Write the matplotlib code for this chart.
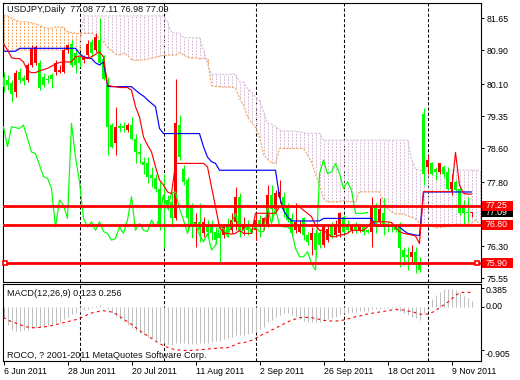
import numpy as np
import pandas as pd
import matplotlib
matplotlib.use("Agg")
import matplotlib.pyplot as plt
from matplotlib.patches import Rectangle
from matplotlib.transforms import blended_transform_factory

plt.rcParams['font.family'] = ['Liberation Sans', 'DejaVu Sans']

# ---------------- data ----------------
symbol_title = "USDJPY,Daily  77.08 77.11 76.98 77.09"
macd_title = "MACD(12,26,9) 0.123 0.256"
copyright_text = "ROCO, ? 2001-2011 MetaQuotes Software Corp."

dates = pd.bdate_range("2011-06-06", periods=118)

opens = [80.27, 80.19, 80.12, 79.92, 80.39, 80.25, 80.19, 80.55, 80.59, 80.59,
         80.27, 80.23, 80.31, 80.39, 80.39, 80.39, 80.90, 81.05, 80.82, 80.74,
         80.66, 80.78, 81.09, 80.90, 81.13, 80.70, 80.08, 79.14, 78.71, 79.12,
         79.11, 79.02, 79.14, 78.82, 78.51, 78.28, 78.24, 77.97, 77.89, 77.65,
         77.46, 77.38, 77.34, 76.95, 79.14, 78.12, 77.85, 77.26, 76.75, 76.87,
         76.60, 76.79, 76.79, 76.64, 76.60, 76.56, 76.83, 76.67, 76.87, 77.46,
         76.67, 76.83, 76.71, 76.67, 76.91, 76.75, 76.83, 77.50, 77.18, 77.46,
         77.46, 77.22, 76.95, 76.67, 76.64, 76.95, 76.56, 76.44, 76.60, 76.60,
         76.32, 76.44, 76.79, 76.56, 76.60, 76.99, 76.83, 76.67, 76.79, 76.67,
         76.79, 76.67, 76.64, 77.26, 76.87, 77.07, 76.83, 76.79, 76.75, 76.75,
         76.21, 76.09, 76.05, 76.17, 75.93, 79.41, 78.16, 78.24, 78.12, 78.04,
         78.16, 78.04, 77.65, 77.81, 77.65, 77.26, 77.11, 77.08]
highs = [80.39, 80.31, 80.19, 80.43, 80.47, 80.31, 80.59, 81.01, 81.01, 80.66,
         80.35, 80.31, 80.35, 80.66, 80.55, 80.98, 81.05, 81.13, 80.90, 80.82,
         80.78, 81.13, 81.17, 81.29, 81.64, 80.78, 80.27, 79.18, 79.57, 79.18,
         79.22, 79.18, 79.33, 78.94, 78.71, 78.39, 78.39, 78.16, 78.00, 77.81,
         78.00, 77.50, 77.54, 80.23, 79.37, 78.20, 77.93, 77.30, 77.07, 77.30,
         76.99, 76.91, 76.91, 76.75, 76.67, 76.83, 76.95, 77.07, 77.69, 77.54,
         76.99, 76.91, 76.79, 77.07, 77.03, 76.99, 77.73, 77.73, 77.61, 77.85,
         77.57, 77.30, 77.07, 77.30, 76.91, 76.99, 76.64, 76.75, 76.67, 76.67,
         76.83, 76.79, 76.87, 76.91, 77.10, 77.03, 76.91, 76.83, 76.87, 76.83,
         76.83, 76.71, 77.46, 77.30, 77.42, 77.42, 76.87, 76.83, 76.79, 76.87,
         76.28, 76.28, 76.32, 76.28, 76.05, 79.53, 78.43, 78.28, 78.16, 78.26,
         78.20, 78.16, 78.00, 77.85, 77.69, 77.38, 77.46, 77.11]
lows = [79.92, 79.96, 79.69, 79.80, 80.12, 80.08, 80.15, 80.51, 80.55, 79.96,
        80.04, 80.12, 80.00, 80.31, 80.35, 80.35, 80.82, 80.51, 80.35, 80.51,
        80.59, 80.74, 80.74, 80.86, 80.55, 80.19, 78.43, 78.59, 78.43, 78.98,
        78.98, 78.98, 78.79, 78.24, 78.24, 78.00, 77.77, 77.69, 77.57, 76.67,
        76.25, 77.15, 76.75, 76.91, 78.32, 77.73, 76.67, 76.48, 76.28, 76.40,
        76.52, 76.52, 76.44, 76.36, 75.93, 76.48, 76.52, 76.60, 76.67, 76.52,
        76.56, 76.56, 76.60, 76.44, 76.52, 76.67, 76.75, 76.91, 77.07, 77.30,
        76.99, 76.87, 76.56, 76.60, 76.60, 76.44, 76.32, 76.09, 76.05, 76.25,
        76.28, 76.40, 76.48, 76.52, 76.52, 76.60, 76.60, 76.60, 76.60, 76.64,
        76.56, 76.60, 76.28, 76.60, 76.79, 76.56, 76.64, 76.64, 76.64, 75.81,
        75.85, 75.74, 75.89, 75.66, 75.70, 77.73, 78.00, 77.97, 77.85, 78.00,
        77.93, 77.61, 77.50, 77.57, 77.03, 76.79, 76.87, 76.98]
closes = [80.04, 80.08, 79.88, 80.37, 80.19, 80.17, 80.55, 80.94, 80.98, 80.00,
          80.08, 80.19, 80.23, 80.59, 80.43, 80.90, 81.01, 80.55, 80.55, 80.59,
          80.74, 81.05, 80.82, 81.21, 80.59, 80.23, 79.10, 78.63, 79.10, 79.08,
          79.06, 79.14, 78.82, 78.51, 78.47, 78.20, 77.93, 77.89, 77.65, 76.75,
          77.38, 77.26, 76.95, 79.18, 78.39, 77.81, 76.95, 76.75, 76.87, 76.67,
          76.87, 76.64, 76.60, 76.44, 76.48, 76.75, 76.60, 76.91, 77.46, 76.67,
          76.83, 76.67, 76.64, 76.91, 76.75, 76.95, 77.50, 77.18, 77.54, 77.57,
          77.18, 76.91, 76.60, 76.87, 76.83, 76.56, 76.40, 76.60, 76.21, 76.32,
          76.75, 76.71, 76.52, 76.83, 77.07, 76.64, 76.67, 76.79, 76.67, 76.75,
          76.64, 76.64, 77.22, 76.83, 77.18, 76.79, 76.75, 76.75, 76.67, 76.25,
          76.05, 76.05, 76.17, 75.89, 75.74, 78.00, 78.32, 78.00, 78.04, 78.24,
          78.00, 77.65, 77.81, 77.61, 77.07, 77.07, 77.07, 77.09]

tenkan = [81.05, 80.90, 80.72, 80.70, 80.70, 80.62, 80.41, 80.37, 80.37, 80.41,
          80.44, 80.47, 80.52, 80.57, 80.61, 80.62, 80.62, 80.62, 80.74, 80.76,
          80.72, 80.70, 80.74, 80.80, 80.86, 80.74, 80.08, 80.05, 80.04, 80.02,
          80.02, 80.02, 79.96, 79.57, 79.33, 78.86, 78.67, 78.51, 78.16, 77.85,
          77.73, 77.57, 77.53, 78.24, 78.24, 78.24, 78.24, 78.24, 78.24, 78.24,
          78.24, 78.16, 77.69, 77.22, 76.75, 76.60, 76.60, 76.58, 76.60, 76.67,
          76.60, 76.60, 76.60, 77.07, 77.07, 77.07, 77.07, 77.07, 77.07, 77.22,
          77.22, 77.22, 77.22, 77.22, 77.22, 77.14, 77.07, 76.99, 76.79, 76.67,
          76.67, 76.60, 76.52, 76.52, 76.56, 76.57, 76.60, 76.67, 76.67, 76.67,
          76.67, 76.75, 76.87, 76.87, 76.87, 76.87, 76.87, 76.85, 76.75, 76.64,
          76.60, 76.58, 76.56, 76.54, 76.36, 77.58, 77.58, 77.58, 77.58, 77.58,
          77.58, 77.58, 77.58, 78.50, 77.73, 77.54, 77.52, 77.52]
kijun = [80.87, 80.87, 80.87, 80.87, 80.94, 80.94, 80.94, 80.94, 80.94, 80.94,
         80.94, 80.94, 80.94, 80.94, 80.94, 80.94, 80.94, 80.94, 80.94, 80.82,
         80.74, 80.72, 80.70, 80.60, 80.55, 80.62, 80.05, 80.04, 80.04, 80.04,
         80.04, 80.04, 80.04, 79.96, 79.88, 79.82, 79.73, 79.65, 79.57, 79.06,
         78.94, 78.94, 78.94, 78.94, 78.94, 78.94, 78.94, 78.94, 78.94, 78.94,
         78.63, 78.39, 78.28, 78.24, 78.08, 78.08, 78.08, 78.08, 78.08, 78.08,
         78.08, 78.08, 78.08, 78.08, 78.08, 78.08, 78.08, 78.08, 78.08, 77.46,
         77.14, 76.99, 76.89, 76.89, 76.89, 76.89, 76.89, 76.89, 76.89, 76.89,
         76.95, 76.95, 76.95, 76.95, 76.95, 76.95, 76.95, 76.95, 76.95, 76.95,
         76.95, 76.95, 76.95, 76.77, 76.77, 76.77, 76.77, 76.77, 76.77, 76.75,
         76.67, 76.60, 76.58, 76.56, 76.55, 77.57, 77.57, 77.57, 77.57, 77.57,
         77.57, 77.57, 77.57, 77.57, 77.57, 77.57, 77.57, 77.57]

# leading parts of the cloud spans (earlier history not on screen)
span_a_head = [81.72, 81.70, 81.64, 81.60, 81.56, 81.56, 81.56, 81.54, 81.51, 81.48,
               81.43, 81.41, 81.41, 81.44, 81.44, 81.43, 81.33, 81.31, 81.29, 81.29,
               81.29, 81.29, 81.29, 81.25, 81.17, 81.09]
span_b_head = [80.90, 80.90, 80.90, 80.90, 80.90, 80.90, 80.90, 80.90, 80.90, 80.90,
               80.90, 80.90, 80.90, 80.90, 80.90, 80.90, 80.90, 80.90, 80.90, 80.90,
               81.70, 81.70, 81.70, 81.70, 81.70, 81.70, 81.70, 81.70, 81.70, 81.70,
               81.70, 81.70, 81.70, 81.70, 81.70, 81.70, 81.70, 81.70, 81.70, 81.70,
               81.70, 81.56, 81.31, 81.30, 81.29, 81.19, 81.19, 81.19, 81.19, 81.19,
               80.90, 80.58, 80.33, 80.33, 80.33, 80.33, 80.33, 80.33, 80.33, 80.15,
               80.15, 80.00, 79.92, 79.80, 79.72, 79.45, 79.18, 79.16, 79.11, 79.02,
               79.00, 79.00, 79.00, 79.00, 78.98, 78.96, 78.94]

macd_main = [-0.21, -0.385, -0.49, -0.50, -0.50, -0.49, -0.48, -0.455, -0.44, -0.43,
             -0.42, -0.41, -0.385, -0.35, -0.315, -0.265, -0.21, -0.16, -0.13, -0.105,
             -0.07, -0.04, -0.02, 0.015, 0.03, 0.0, -0.055, -0.125, -0.195, -0.265,
             -0.315, -0.385, -0.455, -0.50, -0.56, -0.595, -0.63, -0.665, -0.70, -0.735,
             -0.77, -0.79, -0.805, -0.77, -0.755, -0.77, -0.785, -0.785, -0.785, -0.77,
             -0.77, -0.755, -0.74, -0.73, -0.715, -0.685, -0.66, -0.63, -0.60, -0.595,
             -0.595, -0.58, -0.56, -0.525, -0.475, -0.435, -0.315, -0.28, -0.225, -0.175,
             -0.14, -0.14, -0.175, -0.225, -0.265, -0.295, -0.315, -0.315, -0.33, -0.315,
             -0.28, -0.26, -0.245, -0.21, -0.16, -0.14, -0.125, -0.11, -0.105, -0.09,
             -0.085, -0.085, -0.055, -0.05, -0.04, -0.035, -0.02, -0.03, -0.04, -0.085,
             -0.14, -0.175, -0.21, -0.245, -0.28, -0.14, 0.035, 0.155, 0.245, 0.315,
             0.365, 0.37, 0.37, 0.35, 0.28, 0.225, 0.175, 0.123]
macd_signal = [-0.224, -0.273, -0.315, -0.343, -0.371, -0.406, -0.427, -0.441, -0.441, -0.434,
               -0.427, -0.413, -0.399, -0.378, -0.357, -0.336, -0.315, -0.294, -0.273, -0.245,
               -0.21, -0.168, -0.133, -0.112, -0.098, -0.084, -0.098, -0.112, -0.147, -0.203,
               -0.259, -0.315, -0.371, -0.434, -0.497, -0.56, -0.609, -0.665, -0.721, -0.77,
               -0.819, -0.854, -0.882, -0.903, -0.91, -0.917, -0.924, -0.917, -0.91, -0.903,
               -0.896, -0.889, -0.882, -0.875, -0.868, -0.861, -0.861, -0.833, -0.798, -0.763,
               -0.756, -0.735, -0.707, -0.665, -0.616, -0.574, -0.539, -0.49, -0.455, -0.406,
               -0.364, -0.322, -0.28, -0.259, -0.231, -0.224, -0.224, -0.231, -0.245, -0.266,
               -0.287, -0.294, -0.301, -0.301, -0.294, -0.28, -0.259, -0.238, -0.21, -0.196,
               -0.175, -0.154, -0.14, -0.126, -0.112, -0.098, -0.084, -0.07, -0.063, -0.063,
               -0.07, -0.091, -0.105, -0.126, -0.154, -0.161, -0.154, -0.126, -0.084, -0.021,
               0.035, 0.091, 0.161, 0.231, 0.294, 0.301, 0.301, 0.301]

levels = [77.25, 76.80, 75.90]
current_price = 77.09
price_ticks = [81.65, 80.90, 80.10, 79.35, 78.60, 77.80, 76.30, 75.55]
macd_ticks = [0.385, 0.00, -0.905]
date_tick_idx = [0, 16, 32, 48, 64, 80, 96, 112]

# ---------------- derived series ----------------
o = np.array(opens); h = np.array(highs); l = np.array(lows); c = np.array(closes)
tk = np.array(tenkan); kj = np.array(kijun)
n = len(c)
x = np.arange(n)
shift = 26
n_cloud = 120
span_a = np.empty(n_cloud)
span_b = np.empty(n_cloud)
span_a[:shift] = span_a_head
for j in range(shift, n_cloud):
    span_a[j] = (tk[j - shift] + kj[j - shift]) / 2
span_b[:len(span_b_head)] = span_b_head
for j in range(len(span_b_head), n_cloud):
    s = slice(j - shift - 51, j - shift + 1)
    span_b[j] = (h[s].max() + l[s].min()) / 2
xc = np.arange(n_cloud)

# ---------------- figure ----------------
W, H = 520, 380
fig = plt.figure(figsize=(W / 100, H / 100), dpi=100)
fig.patch.set_facecolor('white')

def rect(left, top, right, bottom):
    return [left / W, 1 - bottom / H, (right - left) / W, (bottom - top) / H]

ax = fig.add_axes(rect(2.5, 2.7, 481, 281.5))
ax2 = fig.add_axes(rect(2.5, 283.5, 481, 361), sharex=ax)

FS = 6.3
ax.set_xlim(-0.25, 119.375)
ax.set_ylim(75.47, 82.01)
ax2.set_ylim(-1.14, 0.487)

sep_idx = [i for i in range(1, n) if dates[i].month != dates[i - 1].month]
for a in (ax, ax2):
    for s in sep_idx:
        a.axvline(s, color='black', lw=0.75, ls=(0, (3, 2)), zorder=1)
    for sp in a.spines.values():
        sp.set_color('black')
        sp.set_linewidth(0.8)

# Ichimoku cloud
SANDY, THISTLE = '#F4A460', '#D8BFD8'
cols = [SANDY if span_a[j] >= span_b[j] else THISTLE for j in range(n_cloud)]
ax.vlines(xc, np.minimum(span_a, span_b), np.maximum(span_a, span_b),
          colors=cols, linestyles=[(0, (2, 1.2))], lw=0.72, zorder=2)
ax.plot(xc, span_a, color=SANDY, lw=0.8, ls=(0, (2, 1.2)), zorder=2.2)
ax.plot(xc, span_b, color=THISTLE, lw=0.8, ls=(0, (2, 1.2)), zorder=2.2)

# candles
bull = c > o
colors = np.where(bull, '#FF0000', '#00FF00')
ax.vlines(x, l, h, colors=colors, lw=0.75, zorder=3)
body_lo = np.minimum(o, c)
body_h = np.maximum(np.abs(c - o), 0.024)
ax.bar(x, body_h, bottom=body_lo, width=0.75, color=colors, linewidth=0, zorder=3.1)

# indicator lines
ax.plot(x[:n - shift], c[shift:], color='#00FF00', lw=0.85, zorder=4)
ax.plot(x, kj, color='#0000FF', lw=0.85, zorder=4.1)
ax.plot(x, tk, color='#FF0000', lw=0.85, zorder=4.2)

# horizontal levels
for lv in levels:
    ax.axhline(lv, color='#FF0000', lw=2.0, zorder=5)
ax.plot([0.375, 118.3], [levels[2], levels[2]], 's', ms=3.4, mfc='white',
        mec='#FF0000', mew=1.2, zorder=6, clip_on=False)

# price axis
ax.yaxis.tick_right()
ax.set_yticks(price_ticks)
ax.set_yticklabels([f"{v:.2f}" for v in price_ticks])
ax.tick_params(axis='y', direction='out', length=2.5, width=0.7, pad=1.5,
               labelsize=FS, colors='black')
ax.tick_params(axis='x', bottom=False, labelbottom=False)

trans = blended_transform_factory(ax.transAxes, ax.transData)
box_w = 31 / 478.5
box_h = 10 / 42.62

def price_box(val, fc, z):
    ax.add_patch(Rectangle((1.0 + 0.6 / 478.5, val - box_h / 2), box_w, box_h,
                           transform=trans, clip_on=False, fc=fc, ec='none', zorder=z))
    ax.text(1.0 + 5 / 478.5, val, f"{val:.2f}", transform=trans, color='white',
            va='center', ha='left', fontsize=FS, clip_on=False, zorder=z + 0.1)

price_box(current_price, 'black', 7)
for k, lv in enumerate(levels):
    price_box(lv, '#FF0000', 8 + k)

# MACD panel
ax2.vlines(x, 0, macd_main, colors='#C0C0C0', lw=0.75, zorder=2)
ax2.plot(x, macd_signal, color='#FF0000', lw=0.8, ls=(0, (2.5, 3)), zorder=3)
ax2.yaxis.tick_right()
ax2.set_yticks(macd_ticks)
ax2.set_yticklabels([])
ax2.tick_params(axis='y', direction='out', length=2.5, width=0.7)
t2 = blended_transform_factory(ax2.transAxes, ax2.transData)
macd_lbl = ["0.385", "0.00", "-0.905"]
macd_off = [-1.9, 0, -3.7]
for v, s, off in zip(macd_ticks, macd_lbl, macd_off):
    ax2.annotate(s, xy=(1.0, v), xycoords=t2, xytext=(3, off), textcoords='offset points',
                 ha='left', va='center', fontsize=FS, color='black', annotation_clip=False)

ax2.set_xticks(date_tick_idx)
ax2.set_xticklabels([f"{dates[i].day} {dates[i].strftime('%b %Y')}" for i in date_tick_idx],
                    ha='left')
ax2.tick_params(axis='x', direction='out', length=3, width=0.7, pad=1.5,
                labelsize=FS, colors='black')

# texts
fig.text(7 / W, 1 - 10 / H, symbol_title, fontsize=6.6, color='#111111', va='center', ha='left')
fig.text(7 / W, 1 - 294 / H, macd_title, fontsize=6.6, color='#111111', va='center', ha='left')
fig.text(7 / W, 1 - 355 / H, copyright_text, fontsize=6.6, color='#111111', va='center', ha='left')

fig.savefig("out.png", dpi=100)
